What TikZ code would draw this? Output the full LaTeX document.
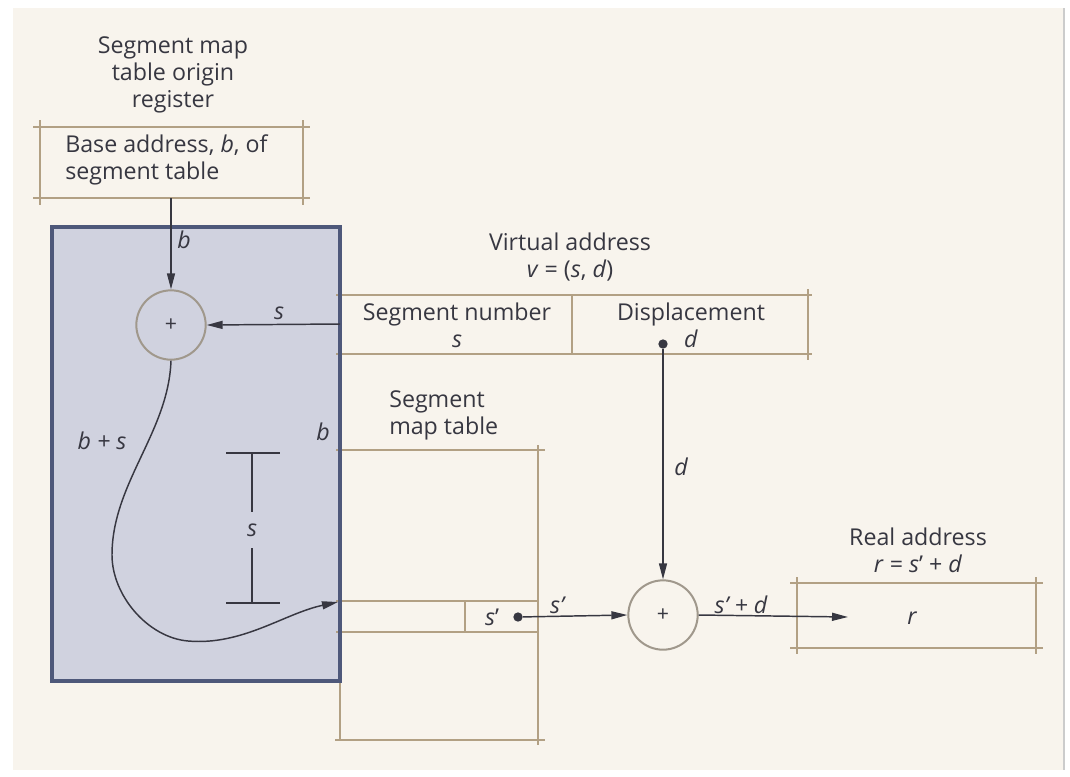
\documentclass[tikz,border=0pt]{standalone}
\usepackage{fontspec}
\setmainfont{Open Sans}
\usetikzlibrary{arrows.meta}
\definecolor{paper}{RGB}{248,244,237}
\definecolor{tan}{RGB}{178,160,132}
\definecolor{ink}{RGB}{55,55,65}
\definecolor{boxfill}{RGB}{208,210,223}
\definecolor{boxedge}{RGB}{78,88,122}
\definecolor{ringc}{RGB}{160,152,140}
\begin{document}
\begin{tikzpicture}[x=0.75pt,y=-0.75pt,
  txt/.style={font=\fontsize{17.4}{20.3}\selectfont, text=ink, inner sep=0pt},
  lbl/.style={font=\fontsize{17.4}{20.3}\selectfont\itshape, text=ink, inner sep=0pt},
  rule/.style={draw=tan, line width=1.2pt},
  conn/.style={draw=ink, line width=1.1pt, -{Triangle[length=12pt,width=6pt]}},
  adder/.style={circle, draw=ringc, line width=1.5pt, minimum size=52pt, inner sep=0pt, font=\fontsize{16}{18}\selectfont, text=ink},
  dotm/.style={circle, fill=ink, minimum size=7pt, inner sep=0pt}]
\useasboundingbox (0,0) rectangle (1070,776);
\fill[white] (0,0) rectangle (1070,776);
\fill[paper] (13,8) rectangle (1064,770);
\draw[gray!40, line width=1pt] (1064,8) -- (1064,770);

% blue region
\fill[boxfill] (52,227) rectangle (340,681);

% register box
\draw[rule] (33,127) -- (310,127);
\draw[rule] (33,198) -- (310,198);
\draw[rule] (40,120) -- (40,205);
\draw[rule] (303,120) -- (303,205);
\node[txt, align=center] (regtitle) at (173,75) {Segment map\\table origin\\register};
\node[txt, align=left, anchor=west] (regtext) at (65,160) {Base address, \textit{b}, of\\segment table};
\coordinate (regout) at (171,198);

% virtual address box
\draw[rule] (336,295) -- (812,295);
\draw[rule] (336,354) -- (812,354);
\draw[rule] (572,295) -- (572,354);
\draw[rule] (808,289) -- (808,360);
\node[txt, align=center] (vatitle) at (570,257) {Virtual address\\\textit{v} = (\textit{s}, \textit{d})};
\node[txt, align=center] (segnum) at (457,325) {Segment number\\\textit{s}};
\node[txt, align=center] (disp) at (691,325) {Displacement\\\textit{d}};
\node[dotm] (ddot) at (663,344) {};
\coordinate (sin) at (340,324);

% segment map table
\node[txt, align=left, anchor=west] (smtitle) at (389,415) {Segment\\map table};
\draw[rule] (336,450) -- (545,450);
\draw[rule] (538,445) -- (538,745);
\draw[rule] (340,681) -- (340,740);
\draw[rule] (336,601) -- (538,601);
\draw[rule] (336,632) -- (538,632);
\draw[rule] (465,601) -- (465,632);
\draw[rule] (335,740) -- (545,740);
\node[txt] (sp) at (492,617) {\textit{s}’};
\node[dotm] (sdot) at (518,617) {};
\coordinate (entry) at (338,602);

% real address box
\draw[rule] (790,583) -- (1043,583);
\draw[rule] (790,648) -- (1043,648);
\draw[rule] (797,577) -- (797,654);
\draw[rule] (1036,577) -- (1036,654);
\node[txt, align=center] (ratitle) at (918,550) {Real address\\\textit{r} = \textit{s}’ + \textit{d}};
\node[lbl] (r) at (912,618) {r};
\coordinate (rin) at (848,617);

% blue region border (over the rules)
\draw[boxedge, line width=2.6pt] (52,227) rectangle (340,681);

% adders
\node[adder] (add1) at (171,325) {+};
\node[adder] (add2) at (663,615) {+};

% connectors
\draw[conn] (regout) -- (add1.north);
\node[lbl] (lb) at (184,240) {b};
\draw[conn] (sin) -- (add1.east);
\node[lbl] (ls) at (279,313) {s};
\draw[conn] (add1.south) to[out=-92,in=90,looseness=0.9] (112,555) to[out=-90,in=175,looseness=0.9] (188,641) to[out=-5,in=192,looseness=0.9] (entry);
\node[lbl] (lbs) at (102,441) {b + s};
\node[lbl] (lb2) at (323,432) {b};

% dimension s
\coordinate (dimt) at (252,453);
\coordinate (dimb) at (252,603);
\draw[ink, line width=1.1pt] (226,453) -- (280,453);
\draw[ink, line width=1.1pt] (226,603) -- (280,603);
\draw[ink, line width=1.1pt] (dimt) -- (252,512);
\draw[ink, line width=1.1pt] (252,548) -- (dimb);
\node[lbl] (dims) at (252,530) {s};

\draw[conn] (ddot) -- (add2.north);
\node[lbl] (ld) at (681,467) {d};
\draw[conn] (sdot) -- (add2.west);
\node[lbl] (lsp) at (557,605) {s’};
\draw[conn] (add2.east) -- (rin);
\node[lbl] (lspd) at (741,605) {s’ + d};
\end{tikzpicture}
\end{document}
